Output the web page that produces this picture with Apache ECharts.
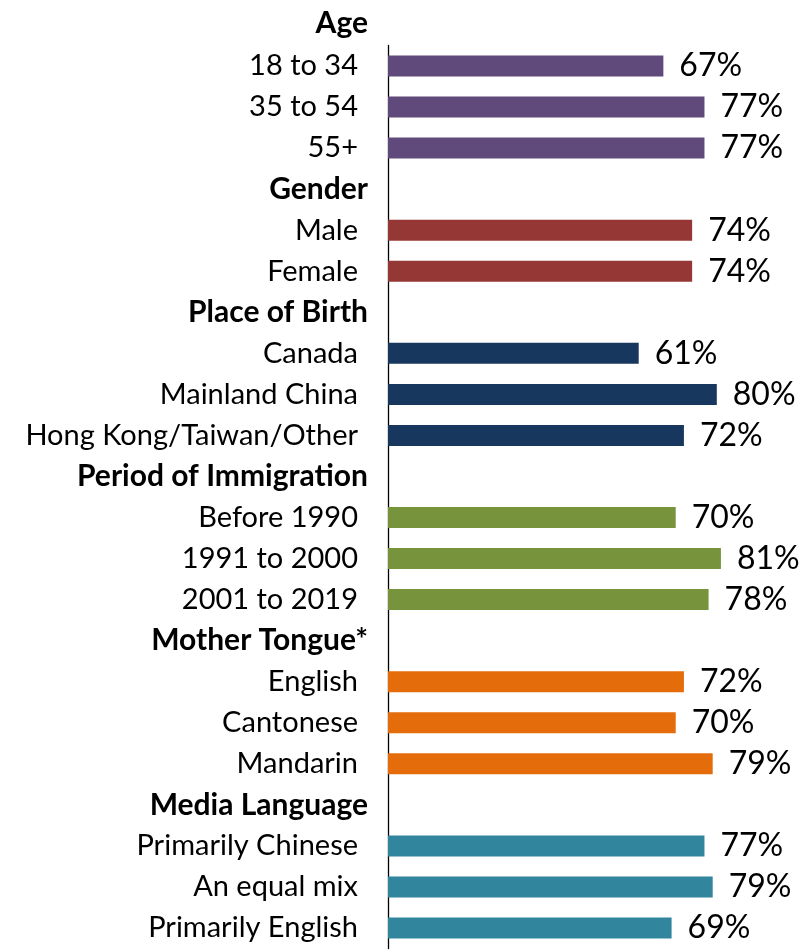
<!DOCTYPE html>
<html>
<head>
<meta charset="utf-8">
<script src="https://cdn.jsdelivr.net/npm/echarts@6/dist/echarts.min.js"></script>
<style>html,body{margin:0;padding:0;background:#fff}#c{width:806px;height:952px}</style>
</head>
<body>
<div id="c"></div>
<script>
// Groups (header, labels, values, colour)
const ageHeader = 'Age';
const ageLabels = ['18 to 34', '35 to 54', '55+'];
const ageValues = [67, 77, 77];

const genderHeader = 'Gender';
const genderLabels = ['Male', 'Female'];
const genderValues = [74, 74];

const birthHeader = 'Place of Birth';
const birthLabels = ['Canada', 'Mainland China', 'Hong Kong/Taiwan/Other'];
const birthValues = [61, 80, 72];

const periodHeader = 'Period of Immigration';
const periodLabels = ['Before 1990', '1991 to 2000', '2001 to 2019'];
const periodValues = [70, 81, 78];

const tongueHeader = 'Mother Tongue*';
const tongueLabels = ['English', 'Cantonese', 'Mandarin'];
const tongueValues = [72, 70, 79];

const mediaHeader = 'Media Language';
const mediaLabels = ['Primarily Chinese', 'An equal mix', 'Primarily English'];
const mediaValues = [77, 79, 69];

const groupColors = ['#604A7B', '#953735', '#17375E', '#77933C', '#E46C0A', '#31859C'];

const groups = [
  [ageHeader, ageLabels, ageValues],
  [genderHeader, genderLabels, genderValues],
  [birthHeader, birthLabels, birthValues],
  [periodHeader, periodLabels, periodValues],
  [tongueHeader, tongueLabels, tongueValues],
  [mediaHeader, mediaLabels, mediaValues]
];

const categories = [];
const seriesData = [];
const headerSet = new Set();
groups.forEach((g, gi) => {
  if (gi > 0) {
    categories.push(g[0]);
    headerSet.add(g[0]);
    seriesData.push({ value: null });
  }
  g[1].forEach((lab, i) => {
    categories.push(lab);
    seriesData.push({ value: g[2][i], itemStyle: { color: groupColors[gi] } });
  });
});

const chart = echarts.init(document.getElementById('c'));
chart.setOption({
  animation: false,
  title: {
    text: ageHeader,
    right: 438,
    top: 8,
    padding: 0,
    textStyle: { fontFamily: 'Lato', fontWeight: 'bold', fontSize: 30, color: '#000' }
  },
  grid: { left: 388, right: 7, top: 45.5, bottom: 3.5, containLabel: false },
  xAxis: {
    type: 'value', min: 0, max: 100,
    show: false
  },
  yAxis: {
    type: 'category',
    data: categories,
    inverse: true,
    axisLine: { show: true, lineStyle: { color: '#000', width: 1.3 } },
    axisTick: { show: false },
    axisLabel: {
      margin: 20,
      formatter: function (v) {
        return headerSet.has(v) ? '{h|' + v + '}' : '{n|' + v + '}';
      },
      rich: {
        h: { fontFamily: 'Lato', fontWeight: 'bold', fontSize: 30, color: '#000' },
        n: { fontFamily: 'Lato', fontSize: 29, color: '#000', padding: [0, 10, 0, 0] }
      }
    }
  },
  series: [{
    type: 'bar',
    data: seriesData,
    barWidth: 21,
    label: {
      show: true,
      position: 'right',
      distance: 16,
      formatter: '{c}%',
      fontFamily: 'Lato',
      fontSize: 32,
      color: '#000'
    }
  }]
});
</script>
</body>
</html>
